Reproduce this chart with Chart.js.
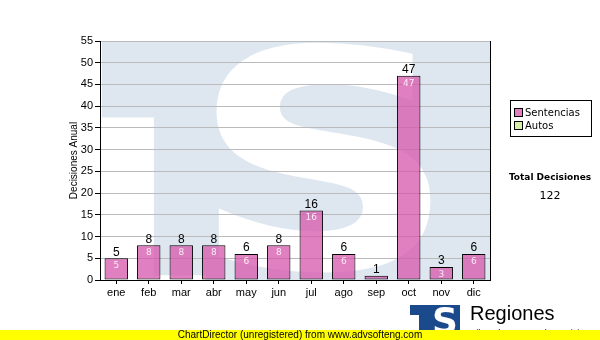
<!DOCTYPE html>
<html>
<head>
<meta charset="utf-8">
<script src="https://cdn.jsdelivr.net/npm/chart.js@4/dist/chart.umd.min.js"></script>
<style>
  body { margin: 0; background: #fff; font-family: "Liberation Sans", Arial, sans-serif; }
  #wrap { position: relative; width: 600px; height: 340px; overflow: hidden; }
  #chart { position: absolute; left: 0; top: 0; }
  .legend { position: absolute; left: 510px; top: 100px; width: 80px; height: 35px; border: 1px solid #000;
            font: 10px "DejaVu Sans", Verdana, sans-serif; background: #fff; }
  .legend div { position: absolute; left: 3px; white-space: nowrap; line-height: 12px; }
  .legend span { display: inline-block; width: 7px; height: 7px; border: 1px solid #000; margin-right: 2px; vertical-align: -1px; }
  .total { position: absolute; left: 500px; width: 100px; text-align: center; }
  .footer { position: absolute; left: 0; top: 330px; width: 600px; height: 10px; background: #ffff00;
            font: 10px "Liberation Sans", Arial, sans-serif; line-height: 10px; text-align: center; z-index: 3; }
  .reg { position: absolute; left: 470px; top: 302px; font: 20px "Liberation Sans", Arial, sans-serif; }
  .sub { position: absolute; left: 468px; top: 328px; font: 9px "Liberation Sans", Arial, sans-serif; white-space: nowrap; }
</style>
</head>
<body>
<div id="wrap">
  <canvas id="chart" width="600" height="340"></canvas>
  <div class="legend">
    <div style="top:6px"><span style="background:#e080c0"></span>Sentencias</div>
    <div style="top:19px"><span style="background:#d8efa8"></span>Autos</div>
  </div>
  <div class="total" style="top:172px;font:bold 9px 'DejaVu Sans', Verdana, sans-serif;">Total Decisiones</div>
  <div class="total" style="top:189px;font:11px 'DejaVu Sans', Verdana, sans-serif;">122</div>
  <svg style="position:absolute;left:410px;top:305px" width="52" height="30">
    <rect x="0" y="0" width="28" height="10" fill="#1b4a8c"/>
    <rect x="9" y="0" width="12" height="30" fill="#1b4a8c"/>
    <rect x="20" y="0" width="30" height="30" fill="#1b4a8c"/>
    <text x="35" y="28" text-anchor="middle" fill="#fff" font-family="DejaVu Sans" font-weight="bold" font-size="36">S</text>
  </svg>
  <div class="reg">Regiones</div>
  <div class="sub">Tribunal Supremo de Justicia</div>
  <div class="footer">ChartDirector (unregistered) from www.advsofteng.com</div>
</div>
<script>
// meses
const meses = ["ene", "feb", "mar", "abr", "may", "jun", "jul", "ago", "sep", "oct", "nov", "dic"];
const sentencias = [5, 8, 8, 8, 6, 8, 16, 6, 1, 47, 3, 6];
const autos = [0, 0, 0, 0, 0, 0, 0, 0, 0, 0, 0, 0];
const yTicks = [0, 5, 10, 15, 20, 25, 30, 35, 40, 45, 50, 55];

// fondo con el logo TSJ
const marcaAgua = {
    id: 'marcaAgua',
    beforeDraw(chart) {
        const ctx = chart.ctx, a = chart.chartArea;
        const w = a.right - a.left, h = a.bottom - a.top;
        const X = f => a.left + f * w, Y = f => a.top + f * h;
        ctx.save();
        ctx.beginPath();
        ctx.rect(a.left, a.top, w, h);
        ctx.clip();
        ctx.fillStyle = '#dee7f0';
        ctx.fillRect(X(0.005), a.top, X(0.33) - X(0.005), Y(0.32) - a.top);
        ctx.fillRect(X(0.138), a.top, X(0.33) - X(0.138), Y(0.98) - a.top);
        ctx.fillRect(X(0.27), a.top, a.right - X(0.27), h);
        ctx.fillStyle = '#fff';
        ctx.font = 'bold 200px "DejaVu Sans"';
        const m = ctx.measureText('S');
        const gw = m.actualBoundingBoxLeft + m.actualBoundingBoxRight;
        const gh = m.actualBoundingBoxAscent + m.actualBoundingBoxDescent;
        const bx = X(0.297), by = a.top + 1, bw = X(0.85) - bx, bh = Y(0.97) - by;
        ctx.translate(bx, by);
        ctx.scale(bw / gw, bh / gh);
        ctx.textBaseline = 'alphabetic';
        ctx.fillText('S', m.actualBoundingBoxLeft, m.actualBoundingBoxAscent);
        ctx.restore();
    },
    afterDraw(chart) {
        const ctx = chart.ctx, a = chart.chartArea;
        ctx.save();
        ctx.strokeStyle = '#000';
        ctx.lineWidth = 1;
        ctx.beginPath();
        ctx.moveTo(Math.round(a.right) + 0.5, a.top);
        ctx.lineTo(Math.round(a.right) + 0.5, a.bottom);
        ctx.stroke();
        ctx.restore();
    }
};

// etiquetas de valor
const etiquetas = {
    id: 'etiquetas',
    afterDatasetsDraw(chart) {
        const ctx = chart.ctx;
        const meta = chart.getDatasetMeta(0);
        ctx.save();
        ctx.textAlign = 'center';
        meta.data.forEach((bar, i) => {
            const v = sentencias[i];
            ctx.fillStyle = '#000';
            ctx.font = '12px "Liberation Sans", Arial';
            ctx.textBaseline = 'bottom';
            ctx.fillText(v, bar.x, bar.y);
            if (bar.base - bar.y >= 10) {
                ctx.fillStyle = 'rgba(255,255,255,0.85)';
                ctx.font = '9px "DejaVu Sans", Verdana';
                ctx.textBaseline = 'top';
                ctx.fillText(v, bar.x, bar.y + 3);
            }
        });
        ctx.restore();
    }
};

new Chart(document.getElementById('chart').getContext('2d'), {
    type: 'bar',
    data: {
        labels: meses,
        datasets: [
            {
                label: 'Sentencias',
                data: sentencias,
                backgroundColor: 'rgba(214,86,171,0.75)',
                borderColor: '#000',
                borderWidth: 1,
                borderSkipped: false,
                barPercentage: 0.72,
                categoryPercentage: 1
            }
        ]
    },
    options: {
        responsive: false,
        animation: false,
        events: [],
        layout: { padding: { left: 68, top: 41, right: 110, bottom: 0 } },
        plugins: { legend: { display: false }, tooltip: { enabled: false } },
        scales: {
            x: {
                grid: { display: true, drawOnChartArea: false, offset: false, tickLength: 4, tickColor: '#000' },
                border: { color: '#000' },
                ticks: { color: '#000', font: { family: 'Liberation Sans', size: 11 }, padding: 2, maxRotation: 0 },
                afterFit(s) { s.height = 60; }
            },
            y: {
                min: 0,
                max: 55,
                afterBuildTicks(s) { s.ticks = yTicks.map(v => ({ value: v })); },
                grid: { color: '#bbbbbb', tickLength: 5, tickColor: '#000' },
                border: { color: '#000' },
                ticks: { color: '#000', font: { family: 'Liberation Sans', size: 11 }, padding: 2 },
                title: { display: true, text: 'Decisiones Anual', color: '#000',
                         font: { family: 'Liberation Sans', size: 10 }, padding: 0 },
                afterFit(s) { s.width = 32; }
            }
        }
    },
    plugins: [marcaAgua, etiquetas]
});
</script>
</body>
</html>
